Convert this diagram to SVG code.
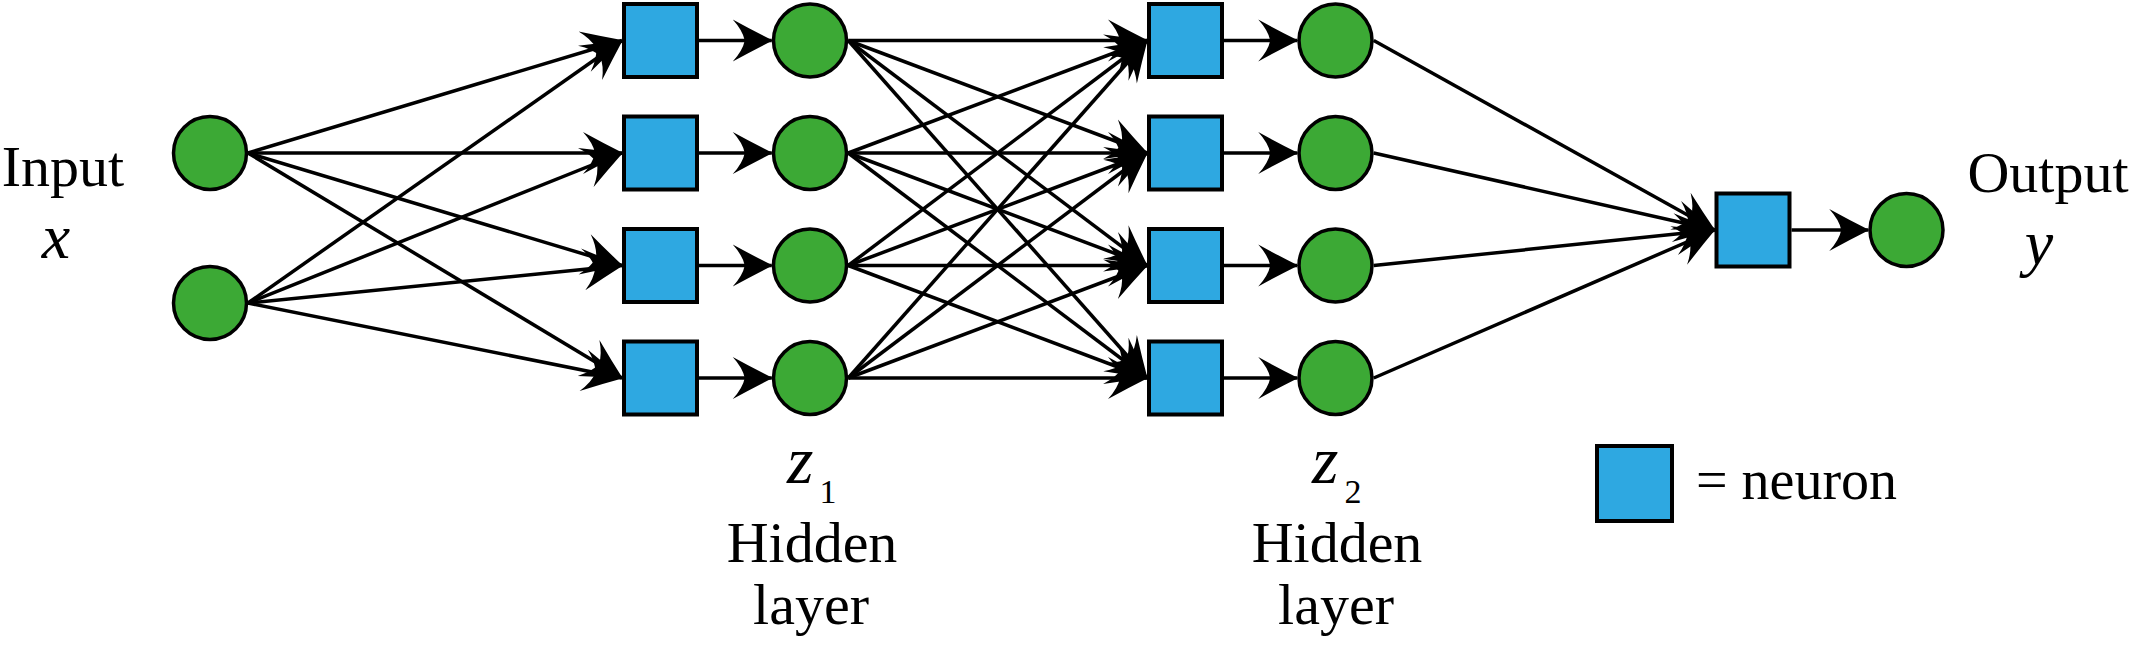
<svg xmlns="http://www.w3.org/2000/svg" width="2131" height="652" viewBox="0 0 2131 652">
<style>
.sq{fill:#2ea8e1;stroke:#000;stroke-width:4}
.ci{fill:#3ca935;stroke:#000;stroke-width:3.5}
.ln{stroke:#000;stroke-width:3.5;fill:none;marker-end:url(#ah)}
text{font-family:"Liberation Serif",Tinos,"Times New Roman",Times,"Noto Serif","DejaVu Serif",serif;fill:#000}
.it{font-style:italic}
</style>
<defs>
<marker id="ah" markerUnits="userSpaceOnUse" viewBox="-44 -25 48 50" markerWidth="48" markerHeight="50" refX="0" refY="0" orient="auto">
<path d="M1,0 Q-19,-10 -39,-21 Q-29,-10 -27,0 Q-29,10 -39,21 Q-19,10 1,0 Z" fill="#000"/>
</marker>
</defs>
<rect width="2131" height="652" fill="#fff"/>
<g id="connectors">
<line class="ln" x1="248" y1="153" x2="622" y2="40.5"/>
<line class="ln" x1="248" y1="153" x2="622" y2="153"/>
<line class="ln" x1="248" y1="153" x2="622" y2="265.5"/>
<line class="ln" x1="248" y1="153" x2="622" y2="378"/>
<line class="ln" x1="248" y1="303" x2="622" y2="40.5"/>
<line class="ln" x1="248" y1="303" x2="622" y2="153"/>
<line class="ln" x1="248" y1="303" x2="622" y2="265.5"/>
<line class="ln" x1="248" y1="303" x2="622" y2="378"/>
<line class="ln" x1="699" y1="40.5" x2="771.75" y2="40.5"/>
<line class="ln" x1="699" y1="153" x2="771.75" y2="153"/>
<line class="ln" x1="699" y1="265.5" x2="771.75" y2="265.5"/>
<line class="ln" x1="699" y1="378" x2="771.75" y2="378"/>
<line class="ln" x1="848.25" y1="40.5" x2="1147" y2="40.5"/>
<line class="ln" x1="848.25" y1="40.5" x2="1147" y2="153"/>
<line class="ln" x1="848.25" y1="40.5" x2="1147" y2="265.5"/>
<line class="ln" x1="848.25" y1="40.5" x2="1147" y2="378"/>
<line class="ln" x1="848.25" y1="153" x2="1147" y2="40.5"/>
<line class="ln" x1="848.25" y1="153" x2="1147" y2="153"/>
<line class="ln" x1="848.25" y1="153" x2="1147" y2="265.5"/>
<line class="ln" x1="848.25" y1="153" x2="1147" y2="378"/>
<line class="ln" x1="848.25" y1="265.5" x2="1147" y2="40.5"/>
<line class="ln" x1="848.25" y1="265.5" x2="1147" y2="153"/>
<line class="ln" x1="848.25" y1="265.5" x2="1147" y2="265.5"/>
<line class="ln" x1="848.25" y1="265.5" x2="1147" y2="378"/>
<line class="ln" x1="848.25" y1="378" x2="1147" y2="40.5"/>
<line class="ln" x1="848.25" y1="378" x2="1147" y2="153"/>
<line class="ln" x1="848.25" y1="378" x2="1147" y2="265.5"/>
<line class="ln" x1="848.25" y1="378" x2="1147" y2="378"/>
<line class="ln" x1="1224" y1="40.5" x2="1297.25" y2="40.5"/>
<line class="ln" x1="1224" y1="153" x2="1297.25" y2="153"/>
<line class="ln" x1="1224" y1="265.5" x2="1297.25" y2="265.5"/>
<line class="ln" x1="1224" y1="378" x2="1297.25" y2="378"/>
<line class="ln" x1="1373.75" y1="40.5" x2="1714.5" y2="230"/>
<line class="ln" x1="1373.75" y1="153" x2="1714.5" y2="230"/>
<line class="ln" x1="1373.75" y1="265.5" x2="1714.5" y2="230"/>
<line class="ln" x1="1373.75" y1="378" x2="1714.5" y2="230"/>
<line class="ln" x1="1791.5" y1="230" x2="1868.25" y2="230"/>
</g>
<g id="input1"><circle class="ci" cx="210" cy="153" r="36.5"/></g>
<g id="input2"><circle class="ci" cx="210" cy="303" r="36.5"/></g>
<g id="h1n1"><rect class="sq" x="624" y="4" width="73" height="73"/></g>
<g id="h1n2"><rect class="sq" x="624" y="116.5" width="73" height="73"/></g>
<g id="h1n3"><rect class="sq" x="624" y="229" width="73" height="73"/></g>
<g id="h1n4"><rect class="sq" x="624" y="341.5" width="73" height="73"/></g>
<g id="z1a"><circle class="ci" cx="810" cy="40.5" r="36.5"/></g>
<g id="z1b"><circle class="ci" cx="810" cy="153" r="36.5"/></g>
<g id="z1c"><circle class="ci" cx="810" cy="265.5" r="36.5"/></g>
<g id="z1d"><circle class="ci" cx="810" cy="378" r="36.5"/></g>
<g id="h2n1"><rect class="sq" x="1149" y="4" width="73" height="73"/></g>
<g id="h2n2"><rect class="sq" x="1149" y="116.5" width="73" height="73"/></g>
<g id="h2n3"><rect class="sq" x="1149" y="229" width="73" height="73"/></g>
<g id="h2n4"><rect class="sq" x="1149" y="341.5" width="73" height="73"/></g>
<g id="z2a"><circle class="ci" cx="1335.5" cy="40.5" r="36.5"/></g>
<g id="z2b"><circle class="ci" cx="1335.5" cy="153" r="36.5"/></g>
<g id="z2c"><circle class="ci" cx="1335.5" cy="265.5" r="36.5"/></g>
<g id="z2d"><circle class="ci" cx="1335.5" cy="378" r="36.5"/></g>
<g id="outneuron"><rect class="sq" x="1716.5" y="193.5" width="73" height="73"/></g>
<g id="output"><circle class="ci" cx="1906.5" cy="230" r="36.5"/></g>
<g id="labels">
<text x="63" y="186" font-size="58" text-anchor="middle">Input</text>
<text class="it" x="56" y="258" font-size="64" text-anchor="middle">x</text>
<text x="2048" y="192" font-size="58" text-anchor="middle">Output</text>
<text class="it" x="2039" y="264" font-size="64" text-anchor="middle">y</text>
<text x="787" y="483" font-size="68"><tspan class="it">z</tspan><tspan font-size="34" dx="6" dy="20">1</tspan></text>
<text x="812" y="562" font-size="58" text-anchor="middle">Hidden</text>
<text x="811" y="624" font-size="58" text-anchor="middle">layer</text>
<text x="1312" y="483" font-size="68"><tspan class="it">z</tspan><tspan font-size="34" dx="6" dy="20">2</tspan></text>
<text x="1337" y="562" font-size="58" text-anchor="middle">Hidden</text>
<text x="1336" y="624" font-size="58" text-anchor="middle">layer</text>
</g>
<g id="legend">
<rect class="sq" x="1597" y="446" width="75" height="75"/>
<text x="1696" y="499" font-size="56">= neuron</text>
</g>
</svg>
